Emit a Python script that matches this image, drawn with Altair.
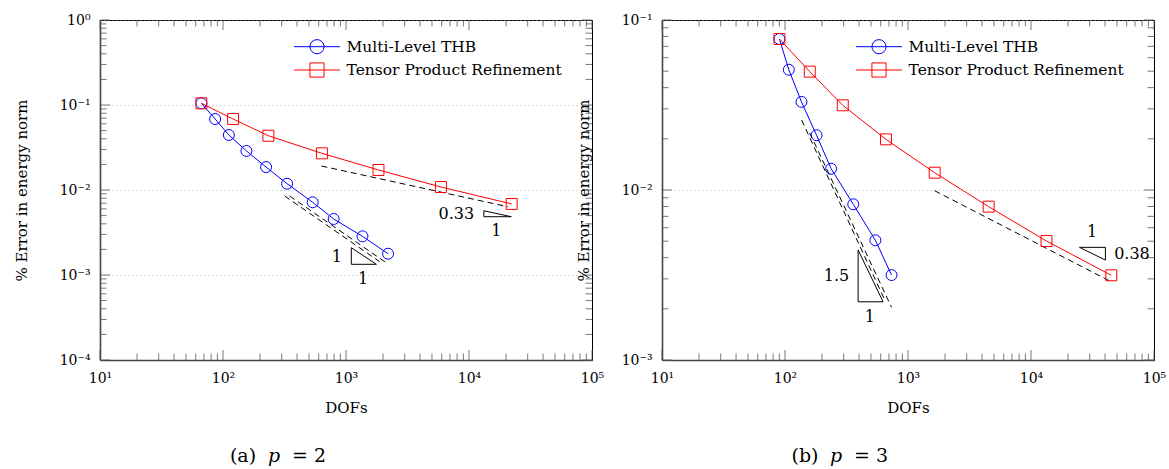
import altair as alt
import pandas as pd

FONT = "DejaVu Serif"
BLUE = "#0000ff"
RED = "#ff0000"
TICK_COLOR = "#555555"

series_names = ["Multi-Level THB", "Tensor Product Refinement"]
series_colors = [BLUE, RED]
series_shapes = ["circle", "square"]

# ---- p = 2 ----
thb_p2_dofs = [66.7, 86.3, 111.6, 155, 224, 332, 536, 794, 1361, 2198]
thb_p2_err = [0.1047, 0.0684, 0.0444, 0.0288, 0.0186, 0.01186, 0.00716, 0.00456, 0.00285, 0.00178]
tp_p2_dofs = [66.7, 120.8, 234, 637, 1837, 5914, 22230]
tp_p2_err = [0.1047, 0.0684, 0.0435, 0.0270, 0.0172, 0.01084, 0.00685]

# ---- p = 3 ----
thb_p3_dofs = [90.1, 107.4, 136.1, 180.5, 237, 359, 543, 735]
thb_p3_err = [0.0773, 0.0510, 0.0330, 0.0210, 0.01334, 0.00824, 0.00506, 0.00316]
tp_p3_dofs = [90.1, 159, 295, 662, 1648, 4528, 13360, 44950]
tp_p3_err = [0.0773, 0.0497, 0.0315, 0.01986, 0.01264, 0.00798, 0.00501, 0.00315]

# dashed reference lines: (x0, y0, x1, y1)
ref_p2 = [(317, 0.0085, 1875, 0.001437), (348, 0.0085, 2138, 0.001384), (631, 0.01915, 20700, 0.00636)]
ref_p3 = [(136.5, 0.0258, 647, 0.002254), (159, 0.02163, 735, 0.00204), (1648, 0.0099, 44770, 0.00289)]

# slope triangles: list of vertices
tri_p2 = [
    [(1104, 0.002094), (1104, 0.001336), (1766, 0.001336)],
    [(13210, 0.0057), (13210, 0.00485), (22080, 0.00485)],
]
tri_p3 = [
    [(393, 0.00444), (393, 0.0022), (627, 0.0022)],
    [(24790, 0.0046), (40280, 0.0046), (40280, 0.00387)],
]
# triangle labels: (x, y, text)
lab_p2 = [(843, 0.00164, "1"), (1380, 0.00089, "1"), (7885, 0.00522, "0.33"), (16680, 0.00332, "1")]
lab_p3 = [(262, 0.00312, "1.5"), (489, 0.0018, "1"), (31410, 0.00569, "1"), (66200, 0.00419, "0.38")]

x_tick_values = [10, 100, 1000, 10000, 100000]
x_tick_labels = ["10¹", "10²", "10³", "10⁴", "10⁵"]
y_tick_values_p2 = [1e-4, 1e-3, 1e-2, 1e-1, 1]
y_tick_labels_p2 = ["10⁻⁴", "10⁻³", "10⁻²", "10⁻¹", "10⁰"]
y_tick_values_p3 = [1e-3, 1e-2, 1e-1]
y_tick_labels_p3 = ["10⁻³", "10⁻²", "10⁻¹"]

W, H = 492, 340


def label_expr(values, labels):
    expr = "''"
    for v, l in zip(values, labels):
        expr = f"abs(datum.value/{v} - 1) < 0.01 ? '{l}' : ({expr})"
    return expr


def minor_ticks(lo, hi):
    out = []
    v = lo
    while v < hi * 0.999:
        for m in range(2, 10):
            out.append(v * m)
        v *= 10
    return out


def panel(thb_x, thb_y, tp_x, tp_y, refs, tris, labs, ydom, yvals, ylabs, caption):
    xs = alt.Scale(type="log", domain=[10, 100000], nice=False)
    ys = alt.Scale(type="log", domain=ydom, nice=False)

    xaxis = alt.Axis(values=x_tick_values, labelExpr=label_expr(x_tick_values, x_tick_labels),
                     ticks=False, domain=True, domainColor="#444444", domainWidth=1.6,
                     grid=False, labelPadding=11, labelFlush=False, labelOverlap=False,
                     title="DOFs", titleX=W / 2, titleY=47, titleAlign="center", titleBaseline="middle")
    yaxis = alt.Axis(values=yvals, labelExpr=label_expr(yvals, ylabs),
                     ticks=False, domain=True, domainColor="#444444", domainWidth=1.6,
                     grid=True, gridDash=[1, 3], gridColor="#aaaaaa",
                     gridWidth=0.8, labelPadding=10, labelFlush=False, labelOverlap=False,
                     title="% Error in energy norm", titleX=-79, titleY=H / 2, titleAngle=270,
                     titleAlign="center", titleBaseline="middle")

    def X(field="DOFs"):
        return alt.X(f"{field}:Q", scale=xs, axis=xaxis, title="DOFs")

    def Y(field="Err"):
        return alt.Y(f"{field}:Q", scale=ys, axis=yaxis, title="% Error in energy norm")

    rows = []
    for name, xx, yy in [(series_names[0], thb_x, thb_y), (series_names[1], tp_x, tp_y)]:
        for a, b in zip(xx, yy):
            rows.append({"Series": name, "DOFs": a, "Err": b})
    df = pd.DataFrame(rows)
    color = alt.Color("Series:N", scale=alt.Scale(domain=series_names, range=series_colors), legend=None)
    shape = alt.Shape("Series:N", scale=alt.Scale(domain=series_names, range=series_shapes), legend=None)

    lines = alt.Chart(df).mark_line(strokeWidth=1).encode(
        x=X(), y=Y(), color=color, detail="Series:N")
    points = alt.Chart(df).mark_point(filled=False, size=120, strokeWidth=1, opacity=1).encode(
        x=X(), y=Y(), color=color, shape=shape)

    rrows = []
    for i, (x0, y0, x1, y1) in enumerate(refs):
        rrows.append({"seg": i, "o": 0, "DOFs": x0, "Err": y0})
        rrows.append({"seg": i, "o": 1, "DOFs": x1, "Err": y1})
    ref = alt.Chart(pd.DataFrame(rrows)).mark_line(color="black", strokeWidth=1, strokeDash=[6, 4]).encode(
        x=X(), y=Y(), detail="seg:N", order="o:Q")

    trows = []
    for i, verts in enumerate(tris):
        for j, (a, b) in enumerate(verts + [verts[0]]):
            trows.append({"tri": i, "o": j, "DOFs": a, "Err": b})
    tri = alt.Chart(pd.DataFrame(trows)).mark_line(color="black", strokeWidth=1).encode(
        x=X(), y=Y(), detail="tri:N", order="o:Q")

    ldf = pd.DataFrame([{"DOFs": a, "Err": b, "t": t} for a, b, t in labs])
    labels = alt.Chart(ldf).mark_text(font=FONT, fontSize=16, color="black", baseline="middle").encode(
        x=X(), y=Y(), text="t:N")

    # inward frame ticks
    tick_layers = []
    xmin = minor_ticks(10, 100000)
    ymin = minor_ticks(ydom[0], ydom[1])
    for vals, L in [(x_tick_values, 10), (xmin, 6.5)]:
        d = pd.DataFrame({"DOFs": vals})
        for y0, y1 in [(H, H - L), (0, L)]:
            tick_layers.append(alt.Chart(d).mark_rule(color=TICK_COLOR, strokeWidth=0.8).encode(
                x=X(), y=alt.value(y0), y2=alt.value(y1)))
    for vals, L in [(yvals, 10), (ymin, 6.5)]:
        d = pd.DataFrame({"Err": vals})
        for x0, x1 in [(0, L), (W, W - L)]:
            tick_layers.append(alt.Chart(d).mark_rule(color=TICK_COLOR, strokeWidth=0.8).encode(
                y=Y(), x=alt.value(x0), x2=alt.value(x1)))

    # legend
    leg_layers = []
    for i, (name, col, shp) in enumerate(zip(series_names, series_colors, series_shapes)):
        yy = 26.7 + i * 23.3
        d = pd.DataFrame({"name": [name]})
        leg_layers.append(alt.Chart(d).mark_rule(color=col, strokeWidth=1).encode(
            x=alt.value(194), x2=alt.value(240), y=alt.value(yy)))
        leg_layers.append(alt.Chart(d).mark_point(color=col, shape=shp, size=200, filled=False,
                                                  strokeWidth=1, opacity=1).encode(
            x=alt.value(217), y=alt.value(yy)))
        leg_layers.append(alt.Chart(d).mark_text(font=FONT, fontSize=15.5, align="left", baseline="middle",
                                                 color="black").encode(
            x=alt.value(246.5), y=alt.value(yy), text="name:N"))

    # caption
    cap_layers = []
    for txt, cx, style in [(caption[0], 143, "normal"), (caption[1], 174, "italic"), (caption[2], 209, "normal")]:
        d = pd.DataFrame({"c": [txt]})
        cap_layers.append(alt.Chart(d).mark_text(font=FONT, fontSize=19, fontStyle=style, align="center",
                                                 baseline="middle", color="black").encode(
            x=alt.value(cx), y=alt.value(436), text="c:N"))

    return alt.layer(lines, *tick_layers, ref, tri, points, labels, *leg_layers, *cap_layers).properties(
        width=W, height=H)


left = panel(thb_p2_dofs, thb_p2_err, tp_p2_dofs, tp_p2_err, ref_p2, tri_p2, lab_p2,
             [1e-4, 1], y_tick_values_p2, y_tick_labels_p2, ["(a)", "p", "= 2"])
right = panel(thb_p3_dofs, thb_p3_err, tp_p3_dofs, tp_p3_err, ref_p3, tri_p3, lab_p3,
              [1e-3, 1e-1], y_tick_values_p3, y_tick_labels_p3, ["(b)", "p", "= 3"])

chart = alt.hconcat(left, right, spacing=70, bounds="flush").properties(
    padding={"left": 13, "top": 12, "right": 2, "bottom": 2},
    background="white",
).configure_view(stroke="black", strokeWidth=1).configure_axis(
    labelFont=FONT, labelFontSize=14, labelColor="black",
    titleFont=FONT, titleFontSize=15, titleFontWeight="normal", titleColor="black",
)

chart.save("out.html", embed_options={"renderer": "svg", "actions": False})
